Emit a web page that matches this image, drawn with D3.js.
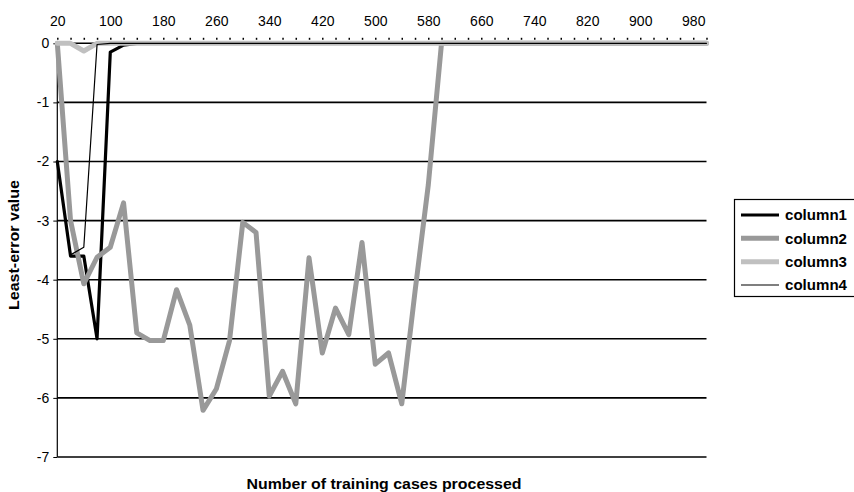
<!DOCTYPE html>
<html><head><meta charset="utf-8">
<script src="https://cdn.jsdelivr.net/npm/d3@7"></script>
<style>body{margin:0;background:#fff}svg{display:block}text{font-family:"Liberation Sans",Arial,sans-serif}</style>
</head><body><svg id="c" width="854" height="492"></svg>
<script>
const categories = [20,40,60,80,100,120,140,160,180,200,220,240,260,280,300,320,340,360,380,400,420,440,460,480,500,520,540,560,580,600,620,640,660,680,700,720,740,760,780,800,820,840,860,880,900,920,940,960,980,1000];
const column1 = [-2,-3.6,-3.6,-5,-0.15,-0.03,0,0,0,0,0,0,0,0,0,0,0,0,0,0,0,0,0,0,0,0,0,0,0,0,0,0,0,0,0,0,0,0,0,0,0,0,0,0,0,0,0,0,0,0];
const column2 = [0,-3.0,-4.07,-3.62,-3.45,-2.7,-4.9,-5.03,-5.03,-4.17,-4.77,-6.21,-5.85,-5.03,-3.03,-3.2,-5.97,-5.55,-6.1,-3.63,-5.24,-4.48,-4.93,-3.37,-5.43,-5.24,-6.1,-4.2,-2.4,0,0,0,0,0,0,0,0,0,0,0,0,0,0,0,0,0,0,0,0,0];
const column3 = [0,0,-0.13,0,0,0,0,0,0,0,0,0,0,0,0,0,0,0,0,0,0,0,0,0,0,0,0,0,0,0,0,0,0,0,0,0,0,0,0,0,0,0,0,0,0,0,0,0,0,0];
const column4 = [-2,-3.58,-3.45,-0.02,0,0,0,0,0,0,0,0,0,0,0,0,0,0,0,0,0,0,0,0,0,0,0,0,0,0,0,0,0,0,0,0,0,0,0,0,0,0,0,0,0,0,0,0,0,0];
const xTickLabels = [20,100,180,260,340,420,500,580,660,740,820,900,980];
const yTicks = [0,-1,-2,-3,-4,-5,-6,-7];
const seriesNames = ["column1","column2","column3","column4"];

const svg = d3.select("#c");
const L = 57.3, R = 706.5, T = 43.3, B = 457;
const x = d3.scalePoint().domain(categories).range([L, R]);
const y = d3.scaleLinear().domain([0, -7]).range([T, B]);

// gridlines
svg.append("g").selectAll("line").data(yTicks.filter(d => d < 0)).join("line")
  .attr("x1", L).attr("x2", R).attr("y1", d => y(d)).attr("y2", d => y(d))
  .attr("stroke", "#000").attr("stroke-width", 1.6);

// y axis
const ya = svg.append("g").attr("transform", `translate(${L},0)`)
  .call(d3.axisLeft(y).tickValues(yTicks).tickSize(4).tickFormat(d3.format("d")));
ya.select(".domain").attr("stroke", "#000").attr("stroke-width", 1.2).attr("d", `M0,${T}V${B}`);
ya.selectAll(".tick line").attr("stroke", "#000");
ya.selectAll("text").attr("font-size", 14).attr("fill", "#000").attr("x", -8)
  .text(d => d === 0 ? "0" : "-" + Math.abs(d));

// x axis at top (value 0)
const xa = svg.append("g").attr("transform", `translate(0,${y(0)})`)
  .call(d3.axisTop(x).tickSize(5).tickFormat(d => xTickLabels.includes(d) ? d : ""));
xa.select(".domain").attr("stroke", "#000").attr("stroke-width", 1.5).attr("d", `M${L},0H${R}`);
xa.selectAll(".tick line").attr("stroke", "#000").attr("stroke-width", 1.5)
  .attr("y1", -5.5).attr("y2", -3.5);
xa.selectAll("text").attr("font-size", 14).attr("fill", "#000").attr("y", -17);

// series
const styles = [
  {data: column1, color: "#000", w: 3.2},
  {data: column2, color: "#999", w: 5},
  {data: column3, color: "#c0c0c0", w: 5},
  {data: column4, color: "#000", w: 1.2}
];
const line = d3.line().x((d, i) => x(categories[i])).y(d => y(d));
svg.append("g").selectAll("path").data(styles).join("path")
  .attr("d", s => line(s.data)).attr("fill", "none")
  .attr("stroke", s => s.color).attr("stroke-width", s => s.w)
  .attr("stroke-linejoin", "round").attr("stroke-linecap", "round");

// axis titles
svg.append("text").attr("x", 384).attr("y", 489).attr("text-anchor", "middle")
  .attr("font-size", 15).attr("font-weight", "bold")
  .attr("textLength", 275).attr("lengthAdjust", "spacingAndGlyphs")
  .text("Number of training cases processed");
svg.append("text").attr("transform", "translate(19,245) rotate(-90)").attr("text-anchor", "middle")
  .attr("font-size", 15).attr("font-weight", "bold")
  .attr("textLength", 130).attr("lengthAdjust", "spacingAndGlyphs")
  .text("Least-error value");

// legend
const lg = svg.append("g");
lg.append("rect").attr("x", 734.5).attr("y", 199.5).attr("width", 130).attr("height", 97)
  .attr("fill", "#fff").attr("stroke", "#000").attr("stroke-width", 1.2);
const ly = d3.scalePoint().domain(seriesNames).range([215, 285]);
seriesNames.forEach((n, i) => {
  lg.append("line").attr("x1", 741).attr("x2", 779).attr("y1", ly(n)).attr("y2", ly(n))
    .attr("stroke", styles[i].color).attr("stroke-width", styles[i].w);
  lg.append("text").attr("x", 785).attr("y", ly(n)).attr("dy", "0.35em")
    .attr("font-size", 15).attr("font-weight", "bold")
    .attr("textLength", 62).attr("lengthAdjust", "spacingAndGlyphs").text(n);
});
</script></body></html>
